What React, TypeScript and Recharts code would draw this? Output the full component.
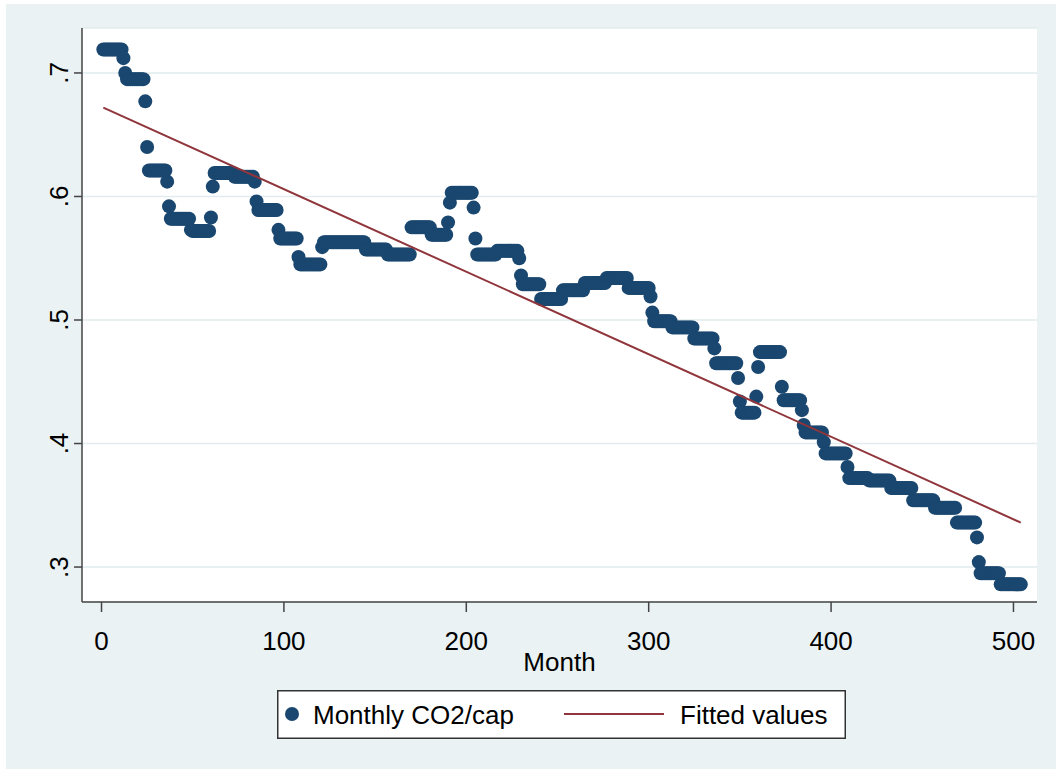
import { ScatterChart, Scatter, XAxis, YAxis, CartesianGrid, Legend } from 'recharts'

// Monthly CO2 per capita, one row per 12 months (months 1..504)
const co2ByYear: number[][] = [
  [0.719, 0.719, 0.719, 0.719, 0.719, 0.719, 0.719, 0.719, 0.719, 0.719, 0.719, 0.712],
  [0.7, 0.695, 0.695, 0.695, 0.695, 0.695, 0.695, 0.695, 0.695, 0.695, 0.695, 0.677],
  [0.64, 0.621, 0.621, 0.621, 0.621, 0.621, 0.621, 0.621, 0.621, 0.621, 0.621, 0.612],
  [0.592, 0.582, 0.582, 0.582, 0.582, 0.582, 0.582, 0.582, 0.582, 0.582, 0.582, 0.582],
  [0.573, 0.572, 0.572, 0.572, 0.572, 0.572, 0.572, 0.572, 0.572, 0.572, 0.572, 0.583],
  [0.608, 0.619, 0.619, 0.619, 0.619, 0.619, 0.619, 0.619, 0.619, 0.619, 0.619, 0.619],
  [0.616, 0.616, 0.616, 0.616, 0.616, 0.616, 0.616, 0.616, 0.616, 0.616, 0.616, 0.612],
  [0.596, 0.589, 0.589, 0.589, 0.589, 0.589, 0.589, 0.589, 0.589, 0.589, 0.589, 0.589],
  [0.573, 0.566, 0.566, 0.566, 0.566, 0.566, 0.566, 0.566, 0.566, 0.566, 0.566, 0.551],
  [0.545, 0.545, 0.545, 0.545, 0.545, 0.545, 0.545, 0.545, 0.545, 0.545, 0.545, 0.545],
  [0.559, 0.563, 0.563, 0.563, 0.563, 0.563, 0.563, 0.563, 0.563, 0.563, 0.563, 0.563],
  [0.563, 0.563, 0.563, 0.563, 0.563, 0.563, 0.563, 0.563, 0.563, 0.563, 0.563, 0.563],
  [0.557, 0.557, 0.557, 0.557, 0.557, 0.557, 0.557, 0.557, 0.557, 0.557, 0.557, 0.557],
  [0.553, 0.553, 0.553, 0.553, 0.553, 0.553, 0.553, 0.553, 0.553, 0.553, 0.553, 0.553],
  [0.553, 0.575, 0.575, 0.575, 0.575, 0.575, 0.575, 0.575, 0.575, 0.575, 0.575, 0.575],
  [0.569, 0.569, 0.569, 0.569, 0.569, 0.569, 0.569, 0.569, 0.569, 0.579, 0.595, 0.603],
  [0.603, 0.603, 0.603, 0.603, 0.603, 0.603, 0.603, 0.603, 0.603, 0.603, 0.603, 0.591],
  [0.566, 0.553, 0.553, 0.553, 0.553, 0.553, 0.553, 0.553, 0.553, 0.553, 0.553, 0.553],
  [0.556, 0.556, 0.556, 0.556, 0.556, 0.556, 0.556, 0.556, 0.556, 0.556, 0.556, 0.556],
  [0.55, 0.536, 0.529, 0.529, 0.529, 0.529, 0.529, 0.529, 0.529, 0.529, 0.529, 0.529],
  [0.517, 0.517, 0.517, 0.517, 0.517, 0.517, 0.517, 0.517, 0.517, 0.517, 0.517, 0.517],
  [0.524, 0.524, 0.524, 0.524, 0.524, 0.524, 0.524, 0.524, 0.524, 0.524, 0.524, 0.524],
  [0.53, 0.53, 0.53, 0.53, 0.53, 0.53, 0.53, 0.53, 0.53, 0.53, 0.53, 0.53],
  [0.534, 0.534, 0.534, 0.534, 0.534, 0.534, 0.534, 0.534, 0.534, 0.534, 0.534, 0.534],
  [0.526, 0.526, 0.526, 0.526, 0.526, 0.526, 0.526, 0.526, 0.526, 0.526, 0.526, 0.526],
  [0.519, 0.506, 0.499, 0.499, 0.499, 0.499, 0.499, 0.499, 0.499, 0.499, 0.499, 0.499],
  [0.494, 0.494, 0.494, 0.494, 0.494, 0.494, 0.494, 0.494, 0.494, 0.494, 0.494, 0.494],
  [0.485, 0.485, 0.485, 0.485, 0.485, 0.485, 0.485, 0.485, 0.485, 0.485, 0.485, 0.477],
  [0.465, 0.465, 0.465, 0.465, 0.465, 0.465, 0.465, 0.465, 0.465, 0.465, 0.465, 0.465],
  [0.453, 0.434, 0.425, 0.425, 0.425, 0.425, 0.425, 0.425, 0.425, 0.425, 0.438, 0.462],
  [0.474, 0.474, 0.474, 0.474, 0.474, 0.474, 0.474, 0.474, 0.474, 0.474, 0.474, 0.474],
  [0.446, 0.435, 0.435, 0.435, 0.435, 0.435, 0.435, 0.435, 0.435, 0.435, 0.435, 0.427],
  [0.415, 0.409, 0.409, 0.409, 0.409, 0.409, 0.409, 0.409, 0.409, 0.409, 0.409, 0.401],
  [0.392, 0.392, 0.392, 0.392, 0.392, 0.392, 0.392, 0.392, 0.392, 0.392, 0.392, 0.392],
  [0.381, 0.372, 0.372, 0.372, 0.372, 0.372, 0.372, 0.372, 0.372, 0.372, 0.372, 0.372],
  [0.37, 0.37, 0.37, 0.37, 0.37, 0.37, 0.37, 0.37, 0.37, 0.37, 0.37, 0.37],
  [0.364, 0.364, 0.364, 0.364, 0.364, 0.364, 0.364, 0.364, 0.364, 0.364, 0.364, 0.364],
  [0.354, 0.354, 0.354, 0.354, 0.354, 0.354, 0.354, 0.354, 0.354, 0.354, 0.354, 0.354],
  [0.348, 0.348, 0.348, 0.348, 0.348, 0.348, 0.348, 0.348, 0.348, 0.348, 0.348, 0.348],
  [0.336, 0.336, 0.336, 0.336, 0.336, 0.336, 0.336, 0.336, 0.336, 0.336, 0.336, 0.324],
  [0.304, 0.295, 0.295, 0.295, 0.295, 0.295, 0.295, 0.295, 0.295, 0.295, 0.295, 0.295],
  [0.286, 0.286, 0.286, 0.286, 0.286, 0.286, 0.286, 0.286, 0.286, 0.286, 0.286, 0.286],
]

// fitted line endpoints
const fitMonths = [1, 504]
const fitValues = [0.672, 0.336]

const xTicks = [0, 100, 200, 300, 400, 500]
const yTicks = [0.3, 0.4, 0.5, 0.6, 0.7]

const NAVY = '#1A476F'
const MAROON = '#90353B'
const BG = '#EAF2F3'
const AXIS = '#444'
const FONT = '"Liberation Sans", Arial, sans-serif'
const FS = 26

const co2Data = co2ByYear.flat().map((value, i) => ({ month: i + 1, value }))
const fitData = fitMonths.map((month, i) => ({ month, value: fitValues[i] }))

const Dot = (props: any) => <circle cx={props.cx} cy={props.cy} r={7} fill={NAVY} />
const NoDot = () => <g />

const YTick = ({ x, y, payload }: any) => {
  const label = payload.value.toFixed(1).replace(/^0/, '')
  const bx = x - 4
  return (
    <text x={bx} y={y} transform={`rotate(-90 ${bx} ${y})`} textAnchor="middle" fontSize={FS} fontFamily={FONT} fill="#000">
      {label}
    </text>
  )
}

const XTick = ({ x, y, payload }: any) => (
  <text x={x} y={y + 36} textAnchor="middle" fontSize={FS} fontFamily={FONT} fill="#000">
    {payload.value}
  </text>
)

const renderLegend = () => (
  <svg width={569} height={49} style={{ display: 'block' }}>
    <rect x={0.75} y={0.75} width={567.5} height={47.5} fill="#fff" stroke="#333" strokeWidth={1.5} />
    <circle cx={15} cy={24} r={7} fill={NAVY} />
    <text x={36} y={34} fontSize={FS} fontFamily={FONT} fill="#000">Monthly CO2/cap</text>
    <line x1={287} x2={387} y1={24} y2={24} stroke={MAROON} strokeWidth={2} />
    <text x={403} y={34} fontSize={FS} fontFamily={FONT} fill="#000">Fitted values</text>
  </svg>
)

export default function App() {
  return (
    <div style={{ position: 'absolute', left: 0, top: 0, width: 1056, height: 769, background: '#fff' }}>
      <div style={{ position: 'absolute', left: 6, top: 4, width: 1050, height: 765, background: BG }} />
      <div style={{ position: 'absolute', left: 0, top: 0 }}>
        <ScatterChart width={1056} height={769} margin={{ top: 28, right: 19, left: 0, bottom: 0 }}>
          <CartesianGrid vertical={false} stroke="#E2EBED" strokeWidth={1.5} fill="#fff" />
          <XAxis
            type="number"
            dataKey="month"
            domain={[-10.7, 512.9]}
            ticks={xTicks}
            height={167}
            allowDataOverflow
            tickSize={10}
            tickLine={{ stroke: AXIS, strokeWidth: 1.5 }}
            axisLine={{ stroke: AXIS, strokeWidth: 1.5 }}
            tick={<XTick />}
            label={{
              content: ({ viewBox }: any) => (
                <text x={viewBox.x + viewBox.width / 2} y={viewBox.y + 69} textAnchor="middle" fontSize={FS} fontFamily={FONT} fill="#000">
                  Month
                </text>
              ),
            }}
          />
          <YAxis
            type="number"
            dataKey="value"
            domain={[0.2717, 0.7364]}
            ticks={yTicks}
            width={82}
            allowDataOverflow
            tickSize={8}
            tickLine={{ stroke: AXIS, strokeWidth: 1.5 }}
            axisLine={{ stroke: AXIS, strokeWidth: 1.5 }}
            tick={<YTick />}
          />
          <Scatter name="Monthly CO2/cap" data={co2Data} shape={<Dot />} isAnimationActive={false} />
          <Scatter
            name="Fitted values"
            data={fitData}
            shape={<NoDot />}
            line={{ stroke: MAROON, strokeWidth: 2 }}
            lineType="joint"
            isAnimationActive={false}
          />
          <Legend
            layout="horizontal"
            verticalAlign="middle"
            align="center"
            content={renderLegend}
            wrapperStyle={{ left: 277, top: 690, width: 569, height: 49 }}
          />
        </ScatterChart>
      </div>
    </div>
  )
}
